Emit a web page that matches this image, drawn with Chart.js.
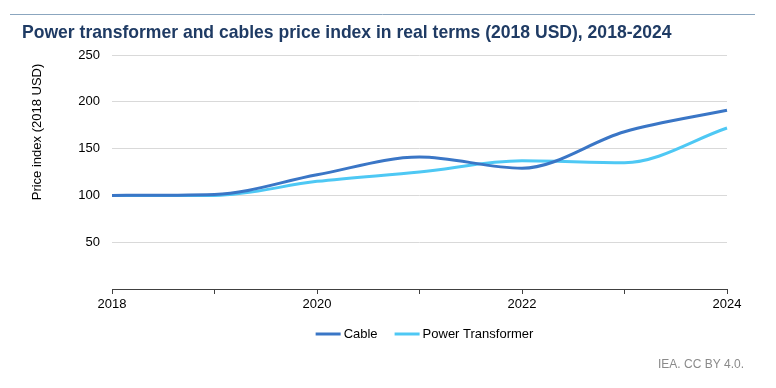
<!DOCTYPE html>
<html>
<head>
<meta charset="utf-8">
<script src="https://cdn.jsdelivr.net/npm/chart.js@4"></script>
<style>
  html, body { margin: 0; padding: 0; background: #ffffff; }
  #wrap { position: relative; width: 776px; height: 388px; }
</style>
</head>
<body>
<div id="wrap"><canvas id="c" width="776" height="388"></canvas></div>
<script>
const years = ['2018', '2019', '2020', '2021', '2022', '2023', '2024'];
const cable = [100, 101, 122, 141, 129, 168, 191];
const powerTransformer = [100, 100, 115, 125, 137, 135, 172];
const yTicks = [0, 50, 100, 150, 200, 250];
const titleText = 'Power transformer and cables price index in real terms (2018 USD), 2018-2024';
const yTitleText = 'Price index (2018 USD)';
const footerText = 'IEA. CC BY 4.0.';

const FONT = '"Liberation Sans", Arial, sans-serif';

const decor = {
  id: 'decor',
  afterDraw(chart) {
    const ctx = chart.ctx;
    ctx.save();
    // top rule
    ctx.strokeStyle = '#8ba6bf';
    ctx.lineWidth = 1;
    ctx.beginPath();
    ctx.moveTo(10, 14.5);
    ctx.lineTo(755, 14.5);
    ctx.stroke();
    // title
    ctx.fillStyle = '#1f3b64';
    ctx.font = 'bold 17px ' + FONT;
    const w = ctx.measureText(titleText).width;
    const size = 17 * 650 / w;
    ctx.font = 'bold ' + size.toFixed(2) + 'px ' + FONT;
    ctx.textBaseline = 'middle';
    ctx.textAlign = 'left';
    ctx.fillText(titleText, 22, 33);
    // y axis title
    ctx.save();
    ctx.translate(37, 132);
    ctx.rotate(-Math.PI / 2);
    ctx.fillStyle = '#000000';
    ctx.font = '13px ' + FONT;
    ctx.textAlign = 'center';
    ctx.textBaseline = 'middle';
    ctx.fillText(yTitleText, 0, 0);
    ctx.restore();
    // legend (centred under the plot area)
    ctx.font = '13px ' + FONT;
    const lineW = 25, gapText = 3, gapItem = 17;
    const items = chart.data.datasets.map(d => ({ label: d.label, color: d.borderColor, tw: ctx.measureText(d.label).width }));
    let total = 0;
    items.forEach((it, i) => { total += lineW + gapText + it.tw + (i < items.length - 1 ? gapItem : 0); });
    const area = chart.chartArea;
    let x = (area.left + area.right) / 2 + 5 - total / 2;
    const ly = 334;
    items.forEach(it => {
      ctx.strokeStyle = it.color;
      ctx.lineWidth = 3;
      ctx.beginPath();
      ctx.moveTo(x, ly);
      ctx.lineTo(x + lineW, ly);
      ctx.stroke();
      ctx.fillStyle = '#000000';
      ctx.textAlign = 'left';
      ctx.textBaseline = 'middle';
      ctx.fillText(it.label, x + lineW + gapText, ly);
      x += lineW + gapText + it.tw + gapItem;
    });
    // footer
    ctx.fillStyle = '#8a8a8a';
    ctx.font = '12px ' + FONT;
    ctx.textAlign = 'right';
    ctx.textBaseline = 'middle';
    ctx.fillText(footerText, 744, 365);
    ctx.restore();
  }
};

new Chart(document.getElementById('c'), {
  type: 'line',
  data: {
    labels: years,
    datasets: [
      {
        label: 'Cable',
        data: cable,
        borderColor: '#3a76c6',
        backgroundColor: '#3a76c6',
        borderWidth: 3,
        pointRadius: 0,
        cubicInterpolationMode: 'monotone',
        fill: false
      },
      {
        label: 'Power Transformer',
        data: powerTransformer,
        borderColor: '#4ec8f4',
        backgroundColor: '#4ec8f4',
        borderWidth: 3,
        pointRadius: 0,
        cubicInterpolationMode: 'monotone',
        fill: false
      }
    ]
  },
  options: {
    responsive: false,
    animation: false,
    devicePixelRatio: 1,
    layout: { padding: { top: 55, left: 12, right: 49, bottom: 69 } },
    plugins: {
      title: { display: false },
      tooltip: { enabled: false },
      legend: { display: false }
    },
    scales: {
      x: {
        type: 'category',
        offset: false,
        grid: {
          display: true,
          drawOnChartArea: false,
          drawTicks: true,
          tickLength: 5,
          color: '#404040'
        },
        border: { display: true, color: '#404040', width: 1 },
        ticks: {
          autoSkip: false,
          maxRotation: 0,
          padding: 3,
          color: '#000000',
          font: { family: FONT, size: 13 },
          callback: function (v, i) { return i % 2 === 0 ? years[i] : ''; }
        },
        afterFit: function (s) { s.height = 30; }
      },
      y: {
        min: yTicks[0],
        max: yTicks[yTicks.length - 1],
        afterBuildTicks: function (s) { s.ticks = yTicks.map(v => ({ value: v })); },
        grid: {
          drawTicks: false,
          color: function (c) { return c.tick && c.tick.value === 0 ? 'rgba(0,0,0,0)' : '#d9d9d9'; }
        },
        border: { display: false },
        ticks: {
          padding: 12,
          color: '#000000',
          font: { family: FONT, size: 13 },
          callback: function (v) { return v === 0 ? '' : v; }
        },
        afterFit: function (s) { s.width = 100; }
      }
    }
  },
  plugins: [decor]
});
</script>
</body>
</html>
